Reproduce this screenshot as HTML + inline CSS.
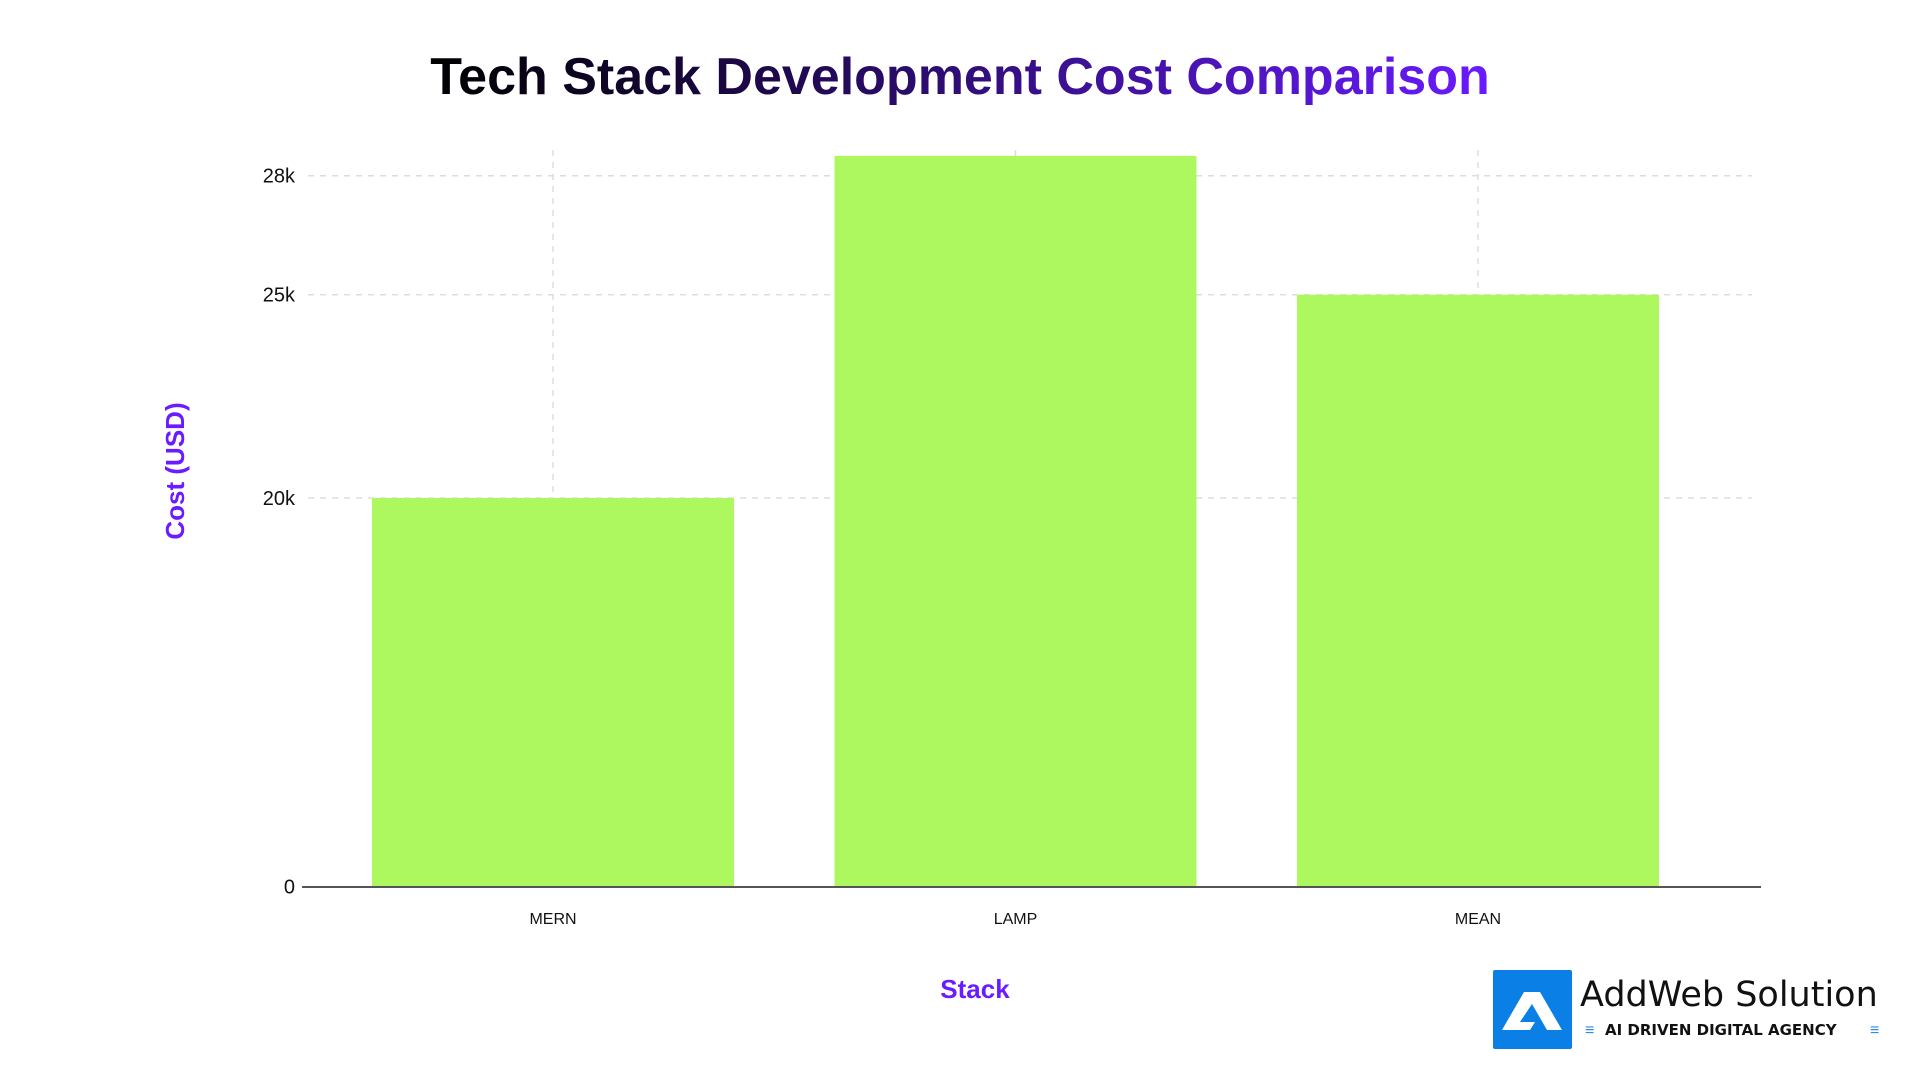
<!DOCTYPE html>
<html><head><meta charset="utf-8"><style>
body{margin:0;width:1920px;height:1080px;background:#fff;overflow:hidden;font-family:"Liberation Sans",sans-serif}
svg{position:absolute;left:0;top:0}
</style></head><body>
<svg id="chart" width="1920" height="1080" xmlns="http://www.w3.org/2000/svg">
<defs><linearGradient id="tg" x1="0" x2="1" y1="0" y2="0"><stop offset="0" stop-color="#000"/><stop offset="0.45" stop-color="#2a0c6a"/><stop offset="1" stop-color="#6a1bff"/></linearGradient></defs>
<text x="960" y="94" text-anchor="middle" font-size="52" font-weight="bold" fill="url(#tg)">Tech Stack Development Cost Comparison</text>
<g id="grid"></g><g id="bars"></g><g id="axes"></g>
<text transform="translate(184,471) rotate(-90)" text-anchor="middle" font-size="26" font-weight="bold" fill="#6a1bff">Cost (USD)</text>
<text x="975" y="998" text-anchor="middle" font-size="26" font-weight="bold" fill="#6a1bff">Stack</text>
<g>
<rect x="1493" y="970" width="79" height="79" fill="#0a7fe6" rx="2"/>
<polygon points="1502,1030 1524,992 1540,992 1562,1030 1547,1030 1532,1004 1520,1022 1535,1022 1530,1030" fill="#fff"/>
<text x="1580" y="1006" font-size="35" fill="#111" font-family="DejaVu Sans, sans-serif">AddWeb Solution</text>
<text x="1605" y="1035" font-size="15" font-weight="bold" fill="#111" font-family="DejaVu Sans, sans-serif">AI DRIVEN DIGITAL AGENCY</text>
<text x="1585" y="1035" font-size="16" fill="#2a8ee8">≡</text><text x="1870" y="1035" font-size="16" fill="#2a8ee8">≡</text>
</g>
</svg>
<script>
const categories=["MERN","LAMP","MEAN"];
const costs=[20000,28500,25000];
const tickValues=[0,20000,25000,28000];
const tickLabels=["0","20k","25k","28k"];
const NS="http://www.w3.org/2000/svg";
const dom=[0,20000,25000,28000],rng=[886.7,498,294.7,175.7];
function y(v){
  for(let i=0;i<dom.length-1;i++){ if(v<=dom[i+1]||i===dom.length-2){const t=(v-dom[i])/(dom[i+1]-dom[i]);return rng[i]+t*(rng[i+1]-rng[i]);} }
}
function x(i){return 553+i*462.5;}
const bw=362;
function mk(tag,attrs,parent){const e=document.createElementNS(NS,tag);for(const k in attrs)e.setAttribute(k,attrs[k]);document.getElementById(parent).appendChild(e);return e;}
tickValues.forEach((v,i)=>{
  if(v>0){const g=mk("line",{x1:308,x2:1752,y1:y(v),y2:y(v),stroke:"#ddd","stroke-width":1.5,"stroke-dasharray":"6,6"},"grid");
  
  }
  const t=mk("text",{x:295,y:y(v)+7,"text-anchor":"end","font-size":20,fill:"#111"},"axes");
  t.textContent=tickLabels[i];
  
  
});
categories.forEach((c,i)=>{
  const g=mk("line",{x1:x(i),x2:x(i),y1:150,y2:886,stroke:"#ddd","stroke-width":1.5,"stroke-dasharray":"6,6"},"grid");
  
  
  const b=mk("rect",{x:x(i)-bw/2,y:y(costs[i]),width:bw,height:y(0)-y(costs[i]),fill:"#adf85f"},"bars");
  
  
  const t=mk("text",{x:x(i),y:924,"text-anchor":"middle","font-size":16,fill:"#111"},"axes");
  t.textContent=c;
  
  
});
const ax=mk("line",{x1:302,x2:1761,y1:887,y2:887,stroke:"#555","stroke-width":2},"axes");


</script>
</body></html>
